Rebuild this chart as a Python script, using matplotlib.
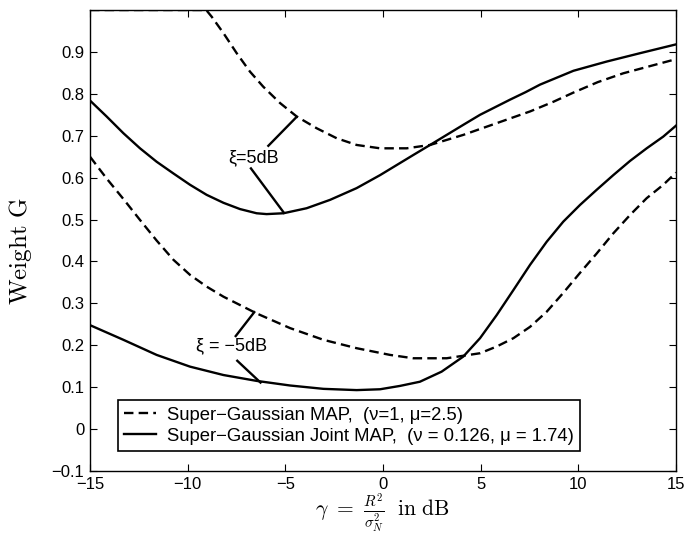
import matplotlib
matplotlib.use("Agg")
import matplotlib.pyplot as plt

plt.rcParams['font.family'] = ['Liberation Sans', 'DejaVu Sans']
plt.rcParams['mathtext.fontset'] = 'cm'

# weight curves, gamma in dB
map_hi_x = [-15, -9.05, -8.77, -8.17, -7.49, -6.81, -6.13, -5.27, -4.42, -3.40, -2.37, -1.35, -0.15,
            1.21, 2.41, 4.11, 5.82, 7.53, 8.72, 9.75, 11.0, 12.3, 14.86, 15]
map_hi_y = [1.0, 1.0, 0.984, 0.945, 0.897, 0.853, 0.817, 0.778, 0.746, 0.718, 0.694, 0.678, 0.670,
            0.670, 0.678, 0.702, 0.730, 0.758, 0.781, 0.803, 0.828, 0.849, 0.881, 0.884]

joint_hi_x = [-15, -14.15, -13.29, -12.44, -11.59, -10.73, -9.88, -9.03, -8.17, -7.32, -6.47, -5.96,
              -5.10, -3.91, -2.71, -1.35, -0.15, 0.70, 1.55, 2.41, 3.26, 4.11, 4.97, 5.82, 6.5,
              7.3, 8.04, 9.75, 11.45, 13.16, 15]
joint_hi_y = [0.784, 0.746, 0.706, 0.670, 0.638, 0.610, 0.583, 0.559, 0.540, 0.525, 0.515, 0.513,
              0.515, 0.527, 0.547, 0.575, 0.606, 0.630, 0.654, 0.678, 0.702, 0.726, 0.750, 0.770, 0.786,
              0.804, 0.822, 0.855, 0.877, 0.897, 0.918]

map_lo_x = [-15, -14.15, -13.29, -12.44, -11.59, -10.73, -9.88, -9.03, -8.17, -7.32, -6.47, -4.76,
            -3.05, -1.35, 0.36, 1.55, 3.26, 4.97, 5.82, 6.68, 7.53, 8.38, 9.23, 10.09, 10.94, 11.79,
            12.65, 13.5, 14.35, 15]
map_lo_y = [0.650, 0.598, 0.549, 0.499, 0.450, 0.404, 0.368, 0.340, 0.316, 0.296, 0.276, 0.241,
            0.213, 0.193, 0.177, 0.169, 0.169, 0.181, 0.197, 0.217, 0.244, 0.280, 0.325, 0.373, 0.419,
            0.467, 0.511, 0.551, 0.583, 0.612]

joint_lo_x = [-15, -13.29, -11.59, -9.88, -8.17, -6.47, -4.76, -3.05, -1.35, -0.15, 0.87, 1.89, 3.0,
              4.11, 4.97, 5.82, 6.68, 7.53, 8.38, 9.23, 10.09, 10.94, 11.79, 12.65, 13.5, 14.35, 15]
joint_lo_y = [0.248, 0.213, 0.177, 0.149, 0.129, 0.115, 0.104, 0.096, 0.093, 0.095, 0.103, 0.113, 0.137,
              0.173, 0.217, 0.272, 0.332, 0.392, 0.447, 0.495, 0.535, 0.571, 0.606, 0.640, 0.670, 0.698, 0.724]

labels = ['Super\u2212Gaussian MAP,  (\u03bd=1, \u03bc=2.5)',
          'Super\u2212Gaussian Joint MAP,  (\u03bd = 0.126, \u03bc = 1.74)']

xticks = [-15, -10, -5, 0, 5, 10, 15]
xticklabels = ['\u221215', '\u221210', '\u22125', '0', '5', '10', '15']
yticks = [-0.1, 0, 0.1, 0.2, 0.3, 0.4, 0.5, 0.6, 0.7, 0.8, 0.9]
yticklabels = ['\u22120.1', '0', '0.1', '0.2', '0.3', '0.4', '0.5', '0.6', '0.7', '0.8', '0.9']

fig = plt.figure(figsize=(6.86, 5.36), dpi=100)
ax = fig.add_axes([0.1312, 0.1213, 0.8542, 0.86])

lw = 1.7
dash = (4, 2.2)
ax.plot(map_hi_x, map_hi_y, color='k', lw=lw, dashes=dash, label=labels[0])
ax.plot(joint_hi_x, joint_hi_y, color='k', lw=lw, label=labels[1])
ax.plot(map_lo_x, map_lo_y, color='k', lw=lw, dashes=dash)
ax.plot(joint_lo_x, joint_lo_y, color='k', lw=lw)

# xi annotations with their pointer lines
ax.text(-6.65, 0.648, '\u03be=5dB', ha='center', va='center', fontsize=13)
ax.plot([-5.87, -4.42], [0.676, 0.745], color='k', lw=lw)
ax.plot([-6.76, -5.07], [0.622, 0.516], color='k', lw=lw)
ax.text(-7.73, 0.198, '\u03be = \u22125dB', ha='center', va='center', fontsize=13)
ax.plot([-7.54, -6.59], [0.222, 0.279], color='k', lw=lw)
ax.plot([-7.46, -6.27], [0.163, 0.111], color='k', lw=lw)

ax.set_xlim(-15, 15)
ax.set_ylim(-0.1, 1.0)
ax.set_xticks(xticks)
ax.set_xticklabels(xticklabels)
ax.set_yticks(yticks)
ax.set_yticklabels(yticklabels)
ax.tick_params(direction='in', top=True, right=True, length=5, width=0.8, labelsize=12, pad=4)
for s in ax.spines.values():
    s.set_linewidth(1.0)

ax.set_xlabel(r'$\gamma\ =\ \frac{R^2}{\sigma_N^2}\ \ \mathrm{in\ dB}$', fontsize=15.5, labelpad=0)
ax.set_ylabel(r'$\mathrm{Weight\ G}$', fontsize=18)
ax.yaxis.set_label_coords(-0.095, 0.477)

leg = ax.legend(loc='lower left', bbox_to_anchor=(0.0478, 0.0433), borderaxespad=0,
                fancybox=False, edgecolor='k', framealpha=1, fontsize=13.3,
                handlelength=1.7, handletextpad=0.6, borderpad=0.35, labelspacing=0.2)
leg.get_frame().set_linewidth(1.2)

fig.savefig('out.png', dpi=100)
